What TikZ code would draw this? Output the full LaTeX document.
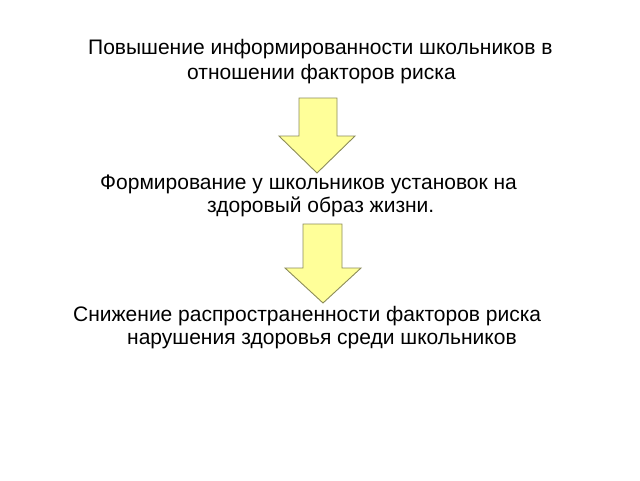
\documentclass[tikz,border=0pt]{standalone}
\usepackage{fontspec}
\setmainfont{Liberation Sans}
\definecolor{arrowfill}{HTML}{FFFF99}
\definecolor{arrowline}{HTML}{8C8C5A}
\tikzset{
  txt/.style={inner sep=0pt, anchor=base west, font=\fontsize{21}{25}\selectfont},
  blockarrow/.style={fill=arrowfill, draw=arrowline, line width=0.9pt, line join=miter}
}
\begin{document}
\begin{tikzpicture}[x=1pt,y=-1pt]
\useasboundingbox (0,0) rectangle (640,480);
\node[txt] (l1) at (88,54) {Повышение информированности школьников в};
\node[txt] (l2) at (187,79) {отношении факторов риска};
\node[txt] (l3) at (100,189) {Формирование у школьников установок на};
\node[txt] (l4) at (207,212) {здоровый образ жизни.};
\node[txt] (l5) at (73,321) {Снижение распространенности факторов риска};
\node[txt] (l6) at (127,344) {нарушения здоровья среди школьников};
\draw[blockarrow] (299,98) -- (337,98) -- (337,136) -- (355,136) -- (317,173) -- (279,136) -- (299,136) -- cycle;
\draw[blockarrow] (303,224) -- (342,224) -- (342,268) -- (361,268) -- (323,303) -- (285,268) -- (303,268) -- cycle;
\end{tikzpicture}
\end{document}
